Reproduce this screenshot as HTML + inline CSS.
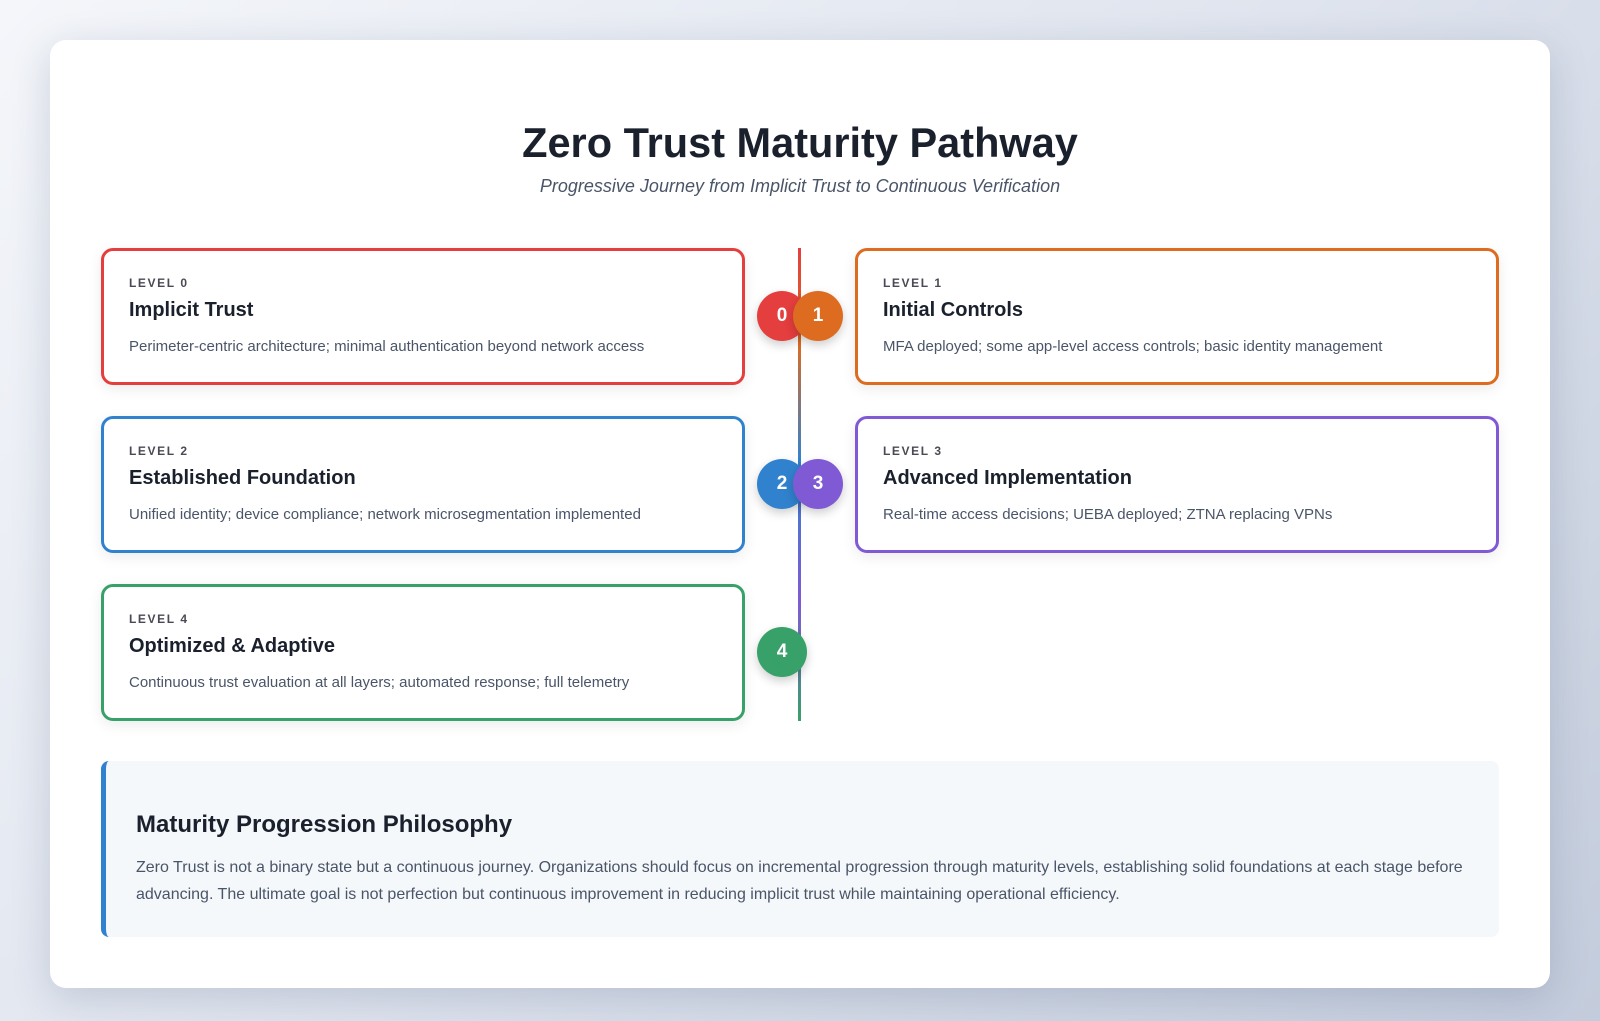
<!DOCTYPE html>
<html><head><meta charset="utf-8"><style>
*{box-sizing:border-box;margin:0;padding:0}
body{width:1600px;height:1021px;overflow:hidden;background:linear-gradient(135deg,#f4f6fa 0%,#dfe4ee 50%,#c3ccdc 100%);font-family:"Liberation Sans",sans-serif;position:relative}
.wrap{position:absolute;left:50px;top:40px;width:1500px;height:948px;background:#fff;border-radius:16px;box-shadow:0 10px 40px rgba(40,60,100,.18)}
h1{position:absolute;left:0;width:1600px;top:119px;text-align:center;font-size:41.5px;font-weight:bold;color:#1a202c}
.sub{position:absolute;left:0;width:1600px;top:176px;text-align:center;font-size:18px;font-style:italic;color:#4a5568}
.card{position:absolute;width:644px;height:137px;border:3px solid;border-radius:12px;background:#fff;box-shadow:0 4px 14px rgba(0,0,0,.08);padding:0 0 0 25px}
.lv{position:absolute;left:25px;top:25px;font-size:12px;font-weight:bold;letter-spacing:1.6px;color:#4a4a55}
.tt{position:absolute;left:25px;top:48px;font-size:20px;font-weight:bold;color:#1a202c}
.ds{position:absolute;left:25px;top:87px;font-size:15px;color:#4a5568}
.line{position:absolute;left:798px;top:248px;width:3px;height:473px;background:linear-gradient(#e53e3e 0%,#dd6b20 20%,#3182ce 45%,#805ad5 75%,#38a169 100%)}
.c{position:absolute;width:50px;height:50px;border-radius:50%;color:#fff;font-weight:bold;font-size:19px;text-align:center;line-height:50px;box-shadow:0 4px 10px rgba(0,0,0,.2)}
.box{position:absolute;left:101px;top:761px;width:1398px;height:176px;background:#f5f8fb;border-left:5px solid #3182ce;border-radius:8px}
.box h2{position:absolute;left:30px;top:50px;font-size:24px;color:#1a202c}
.box p{position:absolute;left:30px;top:94px;width:1345px;font-size:16px;line-height:26.5px;color:#4a5568}
</style></head><body>
<div class="wrap"></div>
<h1>Zero Trust Maturity Pathway</h1>
<div class="sub">Progressive Journey from Implicit Trust to Continuous Verification</div>
<div class="line"></div>
<div class="card" style="left:101px;top:248px;border-color:#e53e3e"><div class="lv">LEVEL 0</div><div class="tt">Implicit Trust</div><div class="ds">Perimeter-centric architecture; minimal authentication beyond network access</div></div>
<div class="card" style="left:855px;top:248px;border-color:#dd6b20"><div class="lv">LEVEL 1</div><div class="tt">Initial Controls</div><div class="ds">MFA deployed; some app-level access controls; basic identity management</div></div>
<div class="card" style="left:101px;top:416px;border-color:#3182ce"><div class="lv">LEVEL 2</div><div class="tt">Established Foundation</div><div class="ds">Unified identity; device compliance; network microsegmentation implemented</div></div>
<div class="card" style="left:855px;top:416px;border-color:#805ad5"><div class="lv">LEVEL 3</div><div class="tt">Advanced Implementation</div><div class="ds">Real-time access decisions; UEBA deployed; ZTNA replacing VPNs</div></div>
<div class="card" style="left:101px;top:584px;border-color:#38a169"><div class="lv">LEVEL 4</div><div class="tt">Optimized &amp; Adaptive</div><div class="ds">Continuous trust evaluation at all layers; automated response; full telemetry</div></div>
<div class="c" style="left:757px;top:291px;background:#e53e3e">0</div>
<div class="c" style="left:793px;top:291px;background:#dd6b20">1</div>
<div class="c" style="left:757px;top:459px;background:#3182ce">2</div>
<div class="c" style="left:793px;top:459px;background:#805ad5">3</div>
<div class="c" style="left:757px;top:627px;background:#38a169">4</div>
<div class="box"><h2>Maturity Progression Philosophy</h2><p>Zero Trust is not a binary state but a continuous journey. Organizations should focus on incremental progression through maturity levels, establishing solid foundations at each stage before advancing. The ultimate goal is not perfection but continuous improvement in reducing implicit trust while maintaining operational efficiency.</p></div>
</body></html>
